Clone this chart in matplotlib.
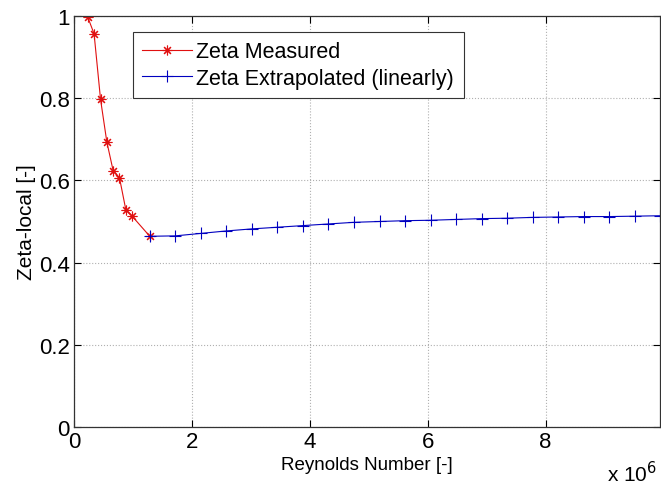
import matplotlib.pyplot as plt
from matplotlib.ticker import FuncFormatter

plt.rcParams['font.family'] = ['Liberation Sans', 'DejaVu Sans']

# measured points (Reynolds number, zeta)
re_measured = [0.229e6, 0.340e6, 0.450e6, 0.556e6, 0.663e6, 0.770e6, 0.878e6, 0.985e6, 1.285e6]
zeta_measured = [0.999, 0.957, 0.797, 0.694, 0.624, 0.607, 0.529, 0.513, 0.464]

# extrapolated points
re_extrap = [1.285e6, 1.718e6, 2.151e6, 2.584e6, 3.017e6, 3.450e6, 3.883e6, 4.316e6,
             4.749e6, 5.182e6, 5.615e6, 6.048e6, 6.481e6, 6.914e6, 7.347e6, 7.780e6,
             8.213e6, 8.646e6, 9.079e6, 9.512e6, 9.945e6]
zeta_extrap = [0.464, 0.465, 0.471, 0.477, 0.482, 0.486, 0.490, 0.494, 0.498, 0.500,
               0.502, 0.503, 0.505, 0.507, 0.508, 0.510, 0.511, 0.512, 0.512, 0.513, 0.514]

fig = plt.figure(figsize=(6.61, 4.89), dpi=100)
ax = fig.add_axes([0.112, 0.125, 0.887, 0.840])

# MATLAB-like '*' marker = 8 spoke asterisk
ax.plot(re_measured, zeta_measured, color='#e01010', marker=(8, 2, 0), markersize=7,
        linewidth=0.8, markeredgewidth=0.8, label='Zeta Measured')
ax.plot(re_extrap, zeta_extrap, color='#0000c0', marker='+', markersize=8,
        linewidth=0.8, markeredgewidth=0.8, label='Zeta Extrapolated (linearly)')

ax.set_xlim(0, 9.945e6)
ax.set_ylim(0, 1)
ax.set_xticks([0, 2e6, 4e6, 6e6, 8e6])
ax.set_yticks([0, 0.2, 0.4, 0.6, 0.8, 1])
ax.xaxis.set_major_formatter(FuncFormatter(lambda v, p: '%g' % (v / 1e6)))
ax.yaxis.set_major_formatter(FuncFormatter(lambda v, p: '%g' % v))
ax.tick_params(direction='in', labelsize=16, length=5, top=True, right=True, width=0.8, pad=3)
ax.grid(True, linestyle=':', color='#b0b0b0', linewidth=0.8)
for s in ax.spines.values():
    s.set_linewidth(0.9)
    s.set_color('#333333')

ax.set_xlabel('Reynolds Number [-]', fontsize=13.5, labelpad=3)
ax.set_ylabel('Zeta-local [-]', fontsize=15, labelpad=2)
fig.text(0.918, 0.014, r'x 10$^{6}$', fontsize=15, ha='left', va='baseline')

leg = ax.legend(loc='upper left', bbox_to_anchor=(0.10, 0.962), borderaxespad=0,
                fontsize=15.5, fancybox=False, framealpha=1, handlelength=2.3,
                handletextpad=0.2, borderpad=0.45, labelspacing=0.25)
leg.get_frame().set_edgecolor('#333333')
leg.get_frame().set_linewidth(0.8)

fig.savefig('out.png', dpi=100)
